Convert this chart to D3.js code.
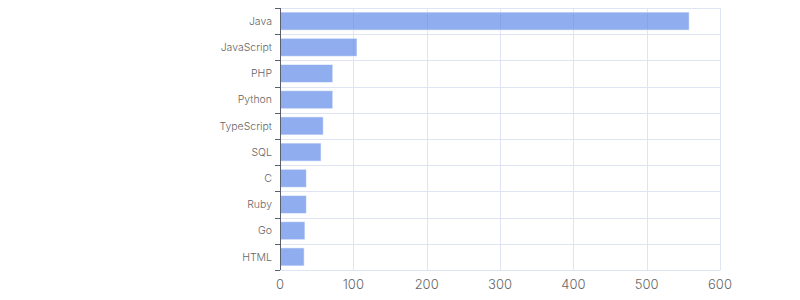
<!DOCTYPE html>
<html>
<head>
<meta charset="utf-8">
<script src="https://cdn.jsdelivr.net/npm/d3@7"></script>
<style>
body { margin: 0; background: #fff; }
svg text { font-family: Inter, "Noto Sans", sans-serif; font-weight: 300; }
</style>
</head>
<body>
<script>
"use strict";
const languages = ["Java", "JavaScript", "PHP", "Python", "TypeScript", "SQL", "C", "Ruby", "Go", "HTML"];
const counts = [558, 105, 72, 72, 59, 56, 36, 36, 34, 33];
const xTicks = [0, 100, 200, 300, 400, 500, 600];

const size = {"width": 800, "height": 300};
const margin = {"top": 8, "right": 80, "bottom": 30, "left": 280};
const data = languages.map((d, i) => ({"name": d, "value": counts[i]}));

const x = d3.scaleLinear().domain([0, 600]).range([margin.left, size.width - margin.right]);
const y = d3.scaleBand().domain(languages).range([margin.top, size.height - margin.bottom]).paddingInner(0.31).paddingOuter(0.155);

const svg = d3.select("body").append("svg").attr("width", size.width).attr("height", size.height);

// grid
const grid = svg.append("g").attr("stroke", "#dfe4f2").attr("stroke-width", 1);
grid.selectAll("line.v")
	.data(xTicks)
	.enter()
	.append("line")
	.attr("x1", d => Math.round(x(d)) + 0.5)
	.attr("x2", d => Math.round(x(d)) + 0.5)
	.attr("y1", margin.top)
	.attr("y2", size.height - margin.bottom);
const step = y.step();
const bounds = languages.map((d, i) => y(d) - y.paddingInner() * step / 2).concat([size.height - margin.bottom]);
grid.selectAll("line.h")
	.data(bounds)
	.enter()
	.append("line")
	.attr("x1", margin.left)
	.attr("x2", size.width - margin.right)
	.attr("y1", d => Math.round(d) + 0.5)
	.attr("y2", d => Math.round(d) + 0.5);

// bars
svg.append("g").selectAll("rect")
	.data(data)
	.enter()
	.append("rect")
	.attr("x", x(0))
	.attr("y", d => y(d.name))
	.attr("width", d => x(d.value) - x(0))
	.attr("height", y.bandwidth())
	.attr("fill", "#5f8ae8")
	.attr("fill-opacity", 0.7)
	.attr("stroke", "#ffffff")
	.attr("stroke-opacity", 0.6)
	.attr("stroke-width", 1);

// left axis
const left = svg.append("g");
left.append("line")
	.attr("x1", margin.left + 0.5).attr("x2", margin.left + 0.5)
	.attr("y1", margin.top).attr("y2", size.height - margin.bottom)
	.attr("stroke", "#5a5f6b");
left.selectAll("line.tick")
	.data(bounds)
	.enter()
	.append("line")
	.attr("x1", margin.left - 5).attr("x2", margin.left)
	.attr("y1", d => Math.round(d) + 0.5).attr("y2", d => Math.round(d) + 0.5)
	.attr("stroke", "#5a5f6b");
left.selectAll("text")
	.data(languages)
	.enter()
	.append("text")
	.attr("x", margin.left - 8)
	.attr("y", d => y(d) + y.bandwidth() / 2)
	.attr("dy", "0.35em")
	.attr("text-anchor", "end")
	.attr("font-size", 10.5)
	.attr("fill", "#666")
	.text(d => d);

// bottom axis
svg.append("g").selectAll("text")
	.data(xTicks)
	.enter()
	.append("text")
	.attr("x", d => x(d))
	.attr("y", size.height - margin.bottom + 19)
	.attr("text-anchor", "middle")
	.attr("font-size", 13)
	.attr("fill", "#666")
	.text(d => d);
</script>
</body>
</html>
